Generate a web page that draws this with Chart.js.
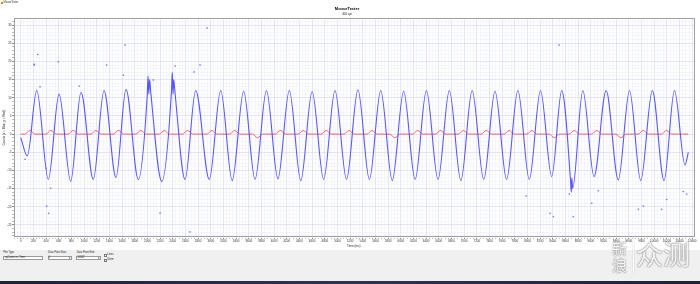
<!DOCTYPE html>
<html>
<head>
<meta charset="utf-8">
<script src="https://cdn.jsdelivr.net/npm/chart.js@4.4.1/dist/chart.umd.min.js"></script>
<style>
  html, body { margin:0; padding:0; background:#fff; width:700px; height:284px; overflow:hidden; font-family:"Liberation Sans","DejaVu Sans",sans-serif; }
  #wrap { position:absolute; left:0; top:0; width:700px; height:250px; }
  canvas { position:absolute; left:0; top:0; }
  .t { position:absolute; white-space:nowrap; color:#222; line-height:1; }
  #panel { position:absolute; left:0; top:250px; width:700px; height:31px; background:#f0f0f0; }
  #taskbar { position:absolute; left:0; top:281px; width:700px; height:3px; background:linear-gradient(90deg,#1c2433,#2a3550,#1c2433); }
  .box { position:absolute; background:#fff; border:0.5px solid #9a9a9a; box-sizing:border-box; }
  .chk { position:absolute; width:2.6px; height:2.6px; background:#fff; border:0.5px solid #777; box-sizing:border-box; }
  .wm { position:absolute; color:rgba(255,255,255,0.92); text-shadow:0 0 1px rgba(90,90,90,0.9),0 0 2px rgba(90,90,90,0.6); font-family:"Noto Sans CJK SC",sans-serif; line-height:1; }
</style>
</head>
<body>
<div id="wrap"><canvas id="c" width="700" height="250"></canvas></div>
<div class="t" style="left:0.5px;top:1.5px;width:2.5px;height:2.5px;background:#d08030;"></div>
<div class="t" style="left:3.5px;top:1.6px;font-size:2.6px;color:#333;">MouseTester</div>

<div id="panel">
  <div class="t" style="left:3.3px;top:1.8px;font-size:2.6px;">Plot Type</div>
  <div class="box" style="left:3.3px;top:5.8px;width:40px;height:4.6px;"></div>
  <div class="t" style="left:5px;top:6.9px;font-size:2.6px;">xyCount vs. Time</div>
  <div class="t" style="left:40px;top:6.9px;font-size:2.2px;color:#666;">&#9013;</div>
  <div class="t" style="left:48px;top:1.8px;font-size:2.6px;">Data Point Start</div>
  <div class="box" style="left:47.7px;top:5.8px;width:24px;height:4.6px;"></div>
  <div class="t" style="left:48.6px;top:6.9px;font-size:2.6px;">0</div>
  <div class="box" style="left:69px;top:5.8px;width:2.7px;height:4.6px;background:#eee;"></div>
  <div class="t" style="left:76.7px;top:1.8px;font-size:2.6px;">Data Point End</div>
  <div class="box" style="left:76.3px;top:5.8px;width:24.4px;height:4.6px;"></div>
  <div class="t" style="left:77.3px;top:6.9px;font-size:2.6px;">10542</div>
  <div class="box" style="left:98px;top:5.8px;width:2.7px;height:4.6px;background:#eee;"></div>
  <div class="chk" style="left:104px;top:4px;"></div>
  <div class="t" style="left:107.3px;top:4.1px;font-size:2.6px;">Lines</div>
  <div class="chk" style="left:104px;top:9px;"></div>
  <div class="t" style="left:107.3px;top:9.1px;font-size:2.6px;">Stem</div>
</div>
<div id="taskbar"></div>

<div class="wm" style="left:612px;top:240px;font-size:15px;">新</div>
<div class="wm" style="left:612px;top:257px;font-size:15px;">浪</div>
<div class="t" style="left:632.5px;top:241px;width:0.8px;height:32px;background:rgba(255,255,255,0.9);box-shadow:0 0 1px rgba(90,90,90,0.8);"></div>
<div class="wm" style="left:636px;top:240px;font-size:27px;">众测</div>

<script>
// ---- data ----
// blue series (x counts): times (ms) of turning points and values
const blueT = [0,104,253,436,605,789,952,1146,1315,1504,1662,1856,1995,2010,2022,2035,2050,2226,2380,2392,2405,2415,2432,2594,2762,2977,3157,3338,3519,3699,3879,4060,4240,4421,4600,4782,4961,5143,5323,5504,5683,5865,6044,6226,6404,6587,6766,6948,7126,7309,7487,7670,7848,8028,8205,8382,8540,8680,8690,8700,8712,8873,9050,9241,9433,9610,9787,9970,10155,10320,10486,10538];
const blueV = [-1,-6,12,-12.5,11,-13,11.5,-12.5,12,-12,12.3,-12.5,10,16,11,15,12,-13,12,17,11,15,12,-12.5,12,-12.5,12,-12.8,11.8,-12.5,12,-12.3,12,-12.8,11.7,-12.5,12,-12.5,12.2,-12.5,12,-12.8,11.8,-12.5,12,-12.5,12,-12.8,12,-12.5,11.8,-12.5,12,-12.5,12,-11.7,12,-13,-16,-12,-15,12,-11.7,12,-12.6,12,-12.8,12,-12.8,12,-8.5,-5];
// scattered blue outlier points
const blueDotT = [68,210,215,268,305,402,410,442,473,593,925,1357,1620,1646,2093,2199,2436,2672,2736,2830,2941,7977,8355,8407,8497,8660,8723,9014,9118,9749,9828,10118,10197,10459,10513];
const blueDotV = [-6.9,19,19.2,21.9,13,-9.4,-19.8,-21.8,-14.9,19.9,13.2,19,16.2,24.5,14.9,-21.7,18.7,-26.9,17.1,19,29.2,-17,-21.8,-22.7,24.5,-16.5,-22.7,-19,-15.6,-20.7,-19.8,-20.7,-18,-15.8,-16.5];
// red series (y counts)
const redT = [0,64,144,224,396,476,556,749,829,909,1106,1186,1266,1464,1544,1624,1816,1896,1976,2186,2266,2346,2554,2634,2714,2937,3017,3097,3298,3378,3458,3659,3739,3819,4020,4100,4180,4381,4461,4541,4742,4822,4902,5103,5183,5263,5464,5544,5624,5825,5905,5985,6186,6266,6346,6547,6627,6707,6908,6988,7068,7269,7349,7429,7630,7710,7790,7988,8068,8148,8342,8422,8502,8658,8738,8818,9010,9090,9170,9393,9473,9553,9747,9827,9907,10115,10195,10275,10446,10538];
const redV = [0,0,1,0, 0,1,0, 0,1,0, 0,1,0, 0,1,0, 0,1,0, 0,1,0, 0,1,0, 0,1,0, 0,1,0, 0,-1,0, 0,1,0, 0,1,0, 0,1,0, 0,1,0, 0,1,0, 0,-1,0, 0,1,0, 0,1,0, 0,1,0, 0,1,0, 0,1,0, 0,1,0, 0,-1,0, 0,1,0, 0,1,0, 0,-1,0, 0,1,0, 0,1,0, 0,0];
const xTickStep = 200, xMinor = 50, yTickStep = 5, yMinor = 1;
const titleText = "MouseTester", subtitleText = "400 cpi";
const xTitle = "Time (ms)", yTitle = "Counts [x = Blue, y = Red]";

const pts = (T, V) => T.map((t, i) => ({x: t, y: V[i]}));

const framePlugin = {
  id: 'frame',
  afterDraw(chart) {
    const a = chart.chartArea, c = chart.ctx;
    c.save(); c.strokeStyle = '#a0a0a0'; c.lineWidth = 1;
    c.strokeRect(Math.round(a.left) + 0.5, Math.round(a.top) + 0.5, Math.round(a.right - a.left) - 1, Math.round(a.bottom - a.top) - 1);
    c.restore();
  }
};

const major = 'rgba(208,208,238,0.55)', minor = 'rgba(236,236,250,0.45)';

new Chart(document.getElementById('c'), {
  type: 'scatter',
  data: {
    datasets: [
      { data: pts(redT, redV), showLine: true, borderColor: 'rgba(255,50,50,0.85)', borderWidth: 0.9, pointRadius: 0, cubicInterpolationMode: 'monotone', order: 2 },
      { data: pts(blueT, blueV), showLine: true, borderColor: 'rgba(70,70,255,0.9)', borderWidth: 1.1, pointRadius: 0, cubicInterpolationMode: 'monotone', order: 1 },
      { data: pts(blueDotT, blueDotV), showLine: false, pointRadius: 0.7, pointStyle: 'rect', backgroundColor: 'rgba(80,80,255,0.75)', borderColor: 'rgba(80,80,255,0.75)', borderWidth: 0.4, order: 0 }
    ]
  },
  options: {
    responsive: false, animation: false, devicePixelRatio: 1,
    layout: { padding: { left: 0, right: 6, top: 0, bottom: 0 } },
    plugins: {
      legend: { display: false }, tooltip: { enabled: false },
      title: { display: true, text: titleText, color: '#000', font: { family: 'Liberation Sans', size: 4, weight: 'bold', lineHeight: 1 }, padding: { top: 7, bottom: 0 } },
      subtitle: { display: true, text: subtitleText, color: '#222', font: { family: 'Liberation Sans', size: 3, lineHeight: 1 }, padding: { top: 1.5, bottom: 2.8 } }
    },
    scales: {
      x: {
        type: 'linear', min: -114, max: 10628,
        afterFit: s => { s.height = 12.5; },
        ticks: { stepSize: xMinor, includeBounds: false, autoSkip: false, maxRotation: 0, padding: 0.5, color: '#333',
          font: { family: 'Liberation Sans', size: 3 },
          callback: v => (v % xTickStep === 0 ? String(v) : '') },
        grid: { color: c => (c.tick && c.tick.value % xTickStep === 0 ? major : minor), lineWidth: 1, tickLength: 1.5,
          tickColor: c => (c.tick && c.tick.value % xTickStep === 0 ? '#888' : '#bbb') },
        border: { display: false },
        title: { display: true, text: xTitle, color: '#222', font: { family: 'Liberation Sans', size: 3 }, padding: { top: 0, bottom: 2.5 } }
      },
      y: {
        type: 'linear', min: -28.44, max: 31.85,
        afterFit: s => { s.width = 13.5; },
        ticks: { stepSize: yMinor, includeBounds: false, autoSkip: false, padding: 0.5, color: '#333',
          font: { family: 'Liberation Sans', size: 3 },
          callback: v => (Math.abs(v % yTickStep) < 1e-9 ? String(v) : '') },
        grid: { color: c => (c.tick && Math.abs(c.tick.value % yTickStep) < 1e-9 ? major : minor), lineWidth: 1, tickLength: 1.5,
          tickColor: c => (c.tick && Math.abs(c.tick.value % yTickStep) < 1e-9 ? '#888' : '#bbb') },
        border: { display: false },
        title: { display: true, text: yTitle, color: '#222', font: { family: 'Liberation Sans', size: 3 }, padding: { top: 2.2, bottom: 0 } }
      }
    }
  },
  plugins: [framePlugin]
});
</script>
</body>
</html>
